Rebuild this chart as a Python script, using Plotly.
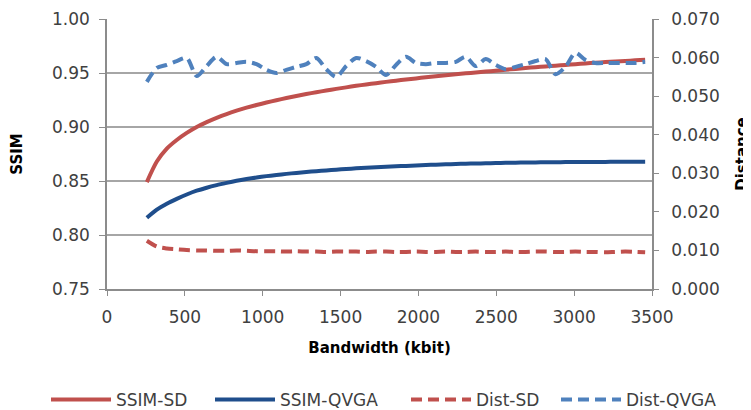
import plotly.graph_objects as go

# Bandwidth (kbit)
bandwidth = [256 + 64 * i for i in range(51)]

ssim_sd = [0.8490, 0.8680, 0.8800, 0.8880, 0.8945, 0.9000, 0.9045, 0.9085, 0.9120, 0.9151,
           0.9179, 0.9204, 0.9227, 0.9248, 0.9268, 0.9287, 0.9305, 0.9322, 0.9338, 0.9353,
           0.9367, 0.9381, 0.9394, 0.9406, 0.9418, 0.9429, 0.9440, 0.9450, 0.9460, 0.9470,
           0.9479, 0.9488, 0.9497, 0.9505, 0.9513, 0.9521, 0.9530, 0.9538, 0.9546, 0.9554,
           0.9561, 0.9568, 0.9575, 0.9582, 0.9589, 0.9595, 0.9601, 0.9607, 0.9612, 0.9617,
           0.9622]

ssim_qvga = [0.8160, 0.8235, 0.8290, 0.8335, 0.8375, 0.8410, 0.8438, 0.8462, 0.8483, 0.8502,
             0.8518, 0.8532, 0.8545, 0.8556, 0.8566, 0.8575, 0.8583, 0.8591, 0.8598, 0.8605,
             0.8611, 0.8617, 0.8622, 0.8627, 0.8632, 0.8636, 0.8640, 0.8644, 0.8648, 0.8651,
             0.8654, 0.8657, 0.8660, 0.8662, 0.8664, 0.8666, 0.8668, 0.8670, 0.8671, 0.8672,
             0.8673, 0.8674, 0.8675, 0.8676, 0.8676, 0.8677, 0.8677, 0.8678, 0.8678, 0.8678,
             0.8678]

dist_sd = [0.0125, 0.0110, 0.0105, 0.0103, 0.0101, 0.0100, 0.0100, 0.0099, 0.0099, 0.0100,
           0.0099, 0.0098, 0.0098, 0.0098, 0.0097, 0.0098, 0.0097, 0.0097, 0.0096, 0.0097,
           0.0097, 0.0097, 0.0096, 0.0097, 0.0097, 0.0096, 0.0096, 0.0097, 0.0096, 0.0096,
           0.0097, 0.0096, 0.0096, 0.0097, 0.0096, 0.0096, 0.0097, 0.0096, 0.0096, 0.0097,
           0.0097, 0.0096, 0.0096, 0.0097, 0.0096, 0.0096, 0.0095, 0.0096, 0.0097, 0.0096,
           0.0095]

dist_qvga = [0.0537, 0.0573, 0.0581, 0.0591, 0.0599, 0.0552, 0.0578, 0.0602, 0.0583, 0.0586,
             0.0589, 0.0583, 0.0568, 0.0560, 0.0568, 0.0576, 0.0583, 0.0599, 0.0570, 0.0550,
             0.0578, 0.0599, 0.0591, 0.0576, 0.0555, 0.0581, 0.0602, 0.0586, 0.0583, 0.0586,
             0.0586, 0.0589, 0.0602, 0.0578, 0.0596, 0.0581, 0.0570, 0.0576, 0.0583, 0.0591,
             0.0596, 0.0557, 0.0576, 0.0612, 0.0594, 0.0586, 0.0586, 0.0586, 0.0586, 0.0586,
             0.0589]

x_ticks = [0, 500, 1000, 1500, 2000, 2500, 3000, 3500]

RED = "#C0504D"
DARK_BLUE = "#1F4E8C"
LIGHT_BLUE = "#4F81BD"
FONT = "DejaVu Sans"
TXT = "#404040"
AXIS = "#8c8c8c"
# page body has an 8px margin, so the figure is 8px smaller than the window
W, H = 743, 402

fig = go.Figure()
fig.add_trace(go.Scatter(x=bandwidth, y=ssim_sd, name="SSIM-SD", mode="lines",
                         line=dict(color=RED, width=4, shape="spline", smoothing=0.8),
                         legend="legend"))
fig.add_trace(go.Scatter(x=bandwidth, y=ssim_qvga, name="SSIM-QVGA", mode="lines",
                         line=dict(color=DARK_BLUE, width=4, shape="spline", smoothing=0.8),
                         legend="legend2"))
fig.add_trace(go.Scatter(x=bandwidth, y=dist_sd, name="Dist-SD", mode="lines", yaxis="y2",
                         line=dict(color=RED, width=4, dash="11px,6px", shape="spline",
                                   smoothing=0.8),
                         legend="legend3"))
fig.add_trace(go.Scatter(x=bandwidth, y=dist_qvga, name="Dist-QVGA", mode="lines", yaxis="y2",
                         line=dict(color=LIGHT_BLUE, width=4, dash="11px,6px", shape="spline",
                                   smoothing=0.8),
                         legend="legend4"))


def leg(px_left):
    return dict(orientation="h", x=px_left / W, xanchor="left", xref="container",
                y=10 / H, yanchor="middle", yref="container",
                font=dict(family=FONT, size=17, color=TXT), itemwidth=60,
                bgcolor="rgba(0,0,0,0)")


fig.update_layout(
    width=W, height=H,
    margin=dict(l=99, r=99, t=11, b=121, autoexpand=False),
    paper_bgcolor="white", plot_bgcolor="white",
    font=dict(family=FONT, size=17, color=TXT),
    showlegend=True,
    legend=leg(38), legend2=leg(202), legend3=leg(398), legend4=leg(548),
    xaxis=dict(range=[0, 3500], tickvals=x_ticks, ticks="outside", ticklen=5,
               tickcolor=AXIS, showline=True, linecolor=AXIS, linewidth=1.5,
               showgrid=False, zeroline=False, automargin=False, ticklabelstandoff=7,
               title=dict(text="<b>Bandwidth (kbit)</b>", font=dict(size=15, color="#000000"),
                          standoff=16)),
    yaxis=dict(range=[0.75, 1.0], dtick=0.05, tickformat=".2f", ticks="outside", ticklen=6,
               tickcolor=AXIS, showline=True, linecolor=AXIS, linewidth=1.5,
               showgrid=True, gridcolor="#a6a6a6", gridwidth=1.5, zeroline=False,
               automargin=False, ticklabelstandoff=6,
               title=dict(text="<b>SSIM</b>", font=dict(size=15, color="#000000"),
                          standoff=36)),
    yaxis2=dict(range=[0, 0.07], dtick=0.01, tickformat=".3f", overlaying="y", side="right",
                ticks="outside", ticklen=5, tickcolor=AXIS, showline=True, linecolor=AXIS,
                linewidth=1.5, showgrid=False, zeroline=False, automargin=False,
                ticklabelstandoff=9,
                title=dict(text="<b>Distance</b>", font=dict(size=15, color="#000000"),
                           standoff=20)),
)

fig.write_html("out.html")
